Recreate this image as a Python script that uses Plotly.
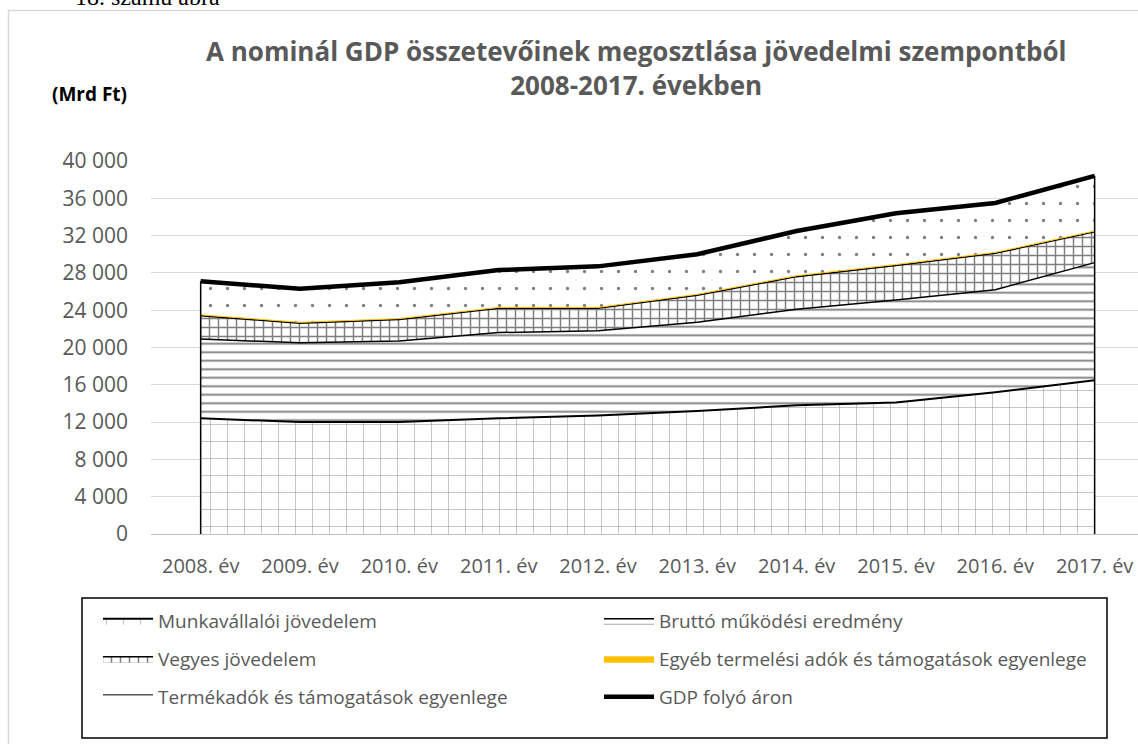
import plotly.graph_objects as go

years = ["2008. év", "2009. év", "2010. év", "2011. év", "2012. év",
         "2013. év", "2014. év", "2015. év", "2016. év", "2017. év"]
munkavallaloi = [12400, 12000, 12000, 12400, 12700, 13200, 13800, 14100, 15200, 16500]
brutto = [8500, 8500, 8700, 9200, 9100, 9500, 10300, 11000, 11000, 12600]
vegyes = [2500, 2100, 2300, 2600, 2400, 2900, 3500, 3700, 3900, 3300]
egyeb = [100, 100, 100, 100, 100, 100, 100, 100, 100, 100]
termekadok = [3600, 3600, 3900, 4000, 4400, 4300, 4800, 5500, 5300, 5900]
gdp = [27100, 26300, 27000, 28300, 28700, 30000, 32500, 34400, 35500, 38400]

FONT = "Open Sans"
GRAY = "#595959"

L, T, PW, PH = 151, 161, 987, 373


def px(x):
    return (x - L) / PW


def py(y):
    return (T + PH - y) / PH


fig = go.Figure()

fig.add_trace(go.Scatter(
    x=years, y=munkavallaloi, name="Munkavállalói jövedelem", stackgroup="s", legend="legend",
    mode="lines", line=dict(color="black", width=2), fillcolor="white",
    fillpattern=dict(shape="+", fgcolor="#222222", bgcolor="white", size=17, solidity=0.06)))
fig.add_trace(go.Scatter(
    x=years, y=brutto, name="Bruttó működési eredmény", stackgroup="s", legend="legend2",
    mode="lines", line=dict(color="black", width=1.5), fillcolor="white",
    fillpattern=dict(shape="-", fgcolor="black", bgcolor="white", size=8.5, solidity=0.22)))
fig.add_trace(go.Scatter(
    x=years, y=vegyes, name="Vegyes jövedelem", stackgroup="s", legend="legend3",
    mode="lines", line=dict(color="black", width=1.5), fillcolor="white",
    fillpattern=dict(shape="+", fgcolor="black", bgcolor="white", size=9, solidity=0.3)))
fig.add_trace(go.Scatter(
    x=years, y=egyeb, name="Egyéb termelési adók és támogatások egyenlege", stackgroup="s",
    legend="legend4", mode="lines", line=dict(color="#FFC000", width=1), fillcolor="#FFC000"))
fig.add_trace(go.Scatter(
    x=years, y=termekadok, name="Termékadók és támogatások egyenlege", stackgroup="s",
    legend="legend5", mode="lines", line=dict(color="black", width=1), fillcolor="white",
    fillpattern=dict(shape=".", fgcolor="black", bgcolor="white", size=17, solidity=0.03)))
fig.add_trace(go.Scatter(
    x=years, y=gdp, name="GDP folyó áron", mode="lines", legend="legend6",
    line=dict(color="black", width=4.5)))

# vertical edges of the area polygon at the first and last category
for i in (0, len(years) - 1):
    fig.add_trace(go.Scatter(x=[years[i], years[i]], y=[0, gdp[i]], mode="lines",
                             line=dict(color="black", width=1.5), showlegend=False,
                             hoverinfo="skip"))


def leg(x, y):
    return dict(x=px(x), y=py(y), xanchor="left", yanchor="middle", borderwidth=0,
                bgcolor="rgba(0,0,0,0)", itemwidth=50,
                font=dict(family=FONT, size=19, color=GRAY))


fig.update_layout(
    width=1138, height=744,
    margin=dict(l=L, r=0, t=T, b=744 - T - PH, pad=0),
    paper_bgcolor="white", plot_bgcolor="white",
    separators=", ",
    font=dict(family=FONT, color=GRAY),
    xaxis=dict(range=[-0.5, -0.5 + PW / 99.33], showgrid=False, showline=True,
               linecolor="#BFBFBF", linewidth=1, ticks="", tickfont=dict(size=20, color=GRAY),
               ticklabelstandoff=14),
    yaxis=dict(range=[0, 40000], tickvals=list(range(0, 40001, 4000)), tickformat=",d",
               showgrid=True, gridcolor="#D9D9D9", gridwidth=1, zeroline=False,
               showline=False, ticks="", tickfont=dict(size=21, color=GRAY),
               ticklabelstandoff=22),
    legend=leg(98, 621), legend2=leg(599, 621),
    legend3=leg(98, 659), legend4=leg(599, 659),
    legend5=leg(98, 697), legend6=leg(599, 697),
    showlegend=True,
)

# outer chart border
fig.add_shape(type="rect", xref="paper", yref="paper",
              x0=px(8.5), x1=1.05, y0=-0.6, y1=py(10.5),
              line=dict(color="#D9D9D9", width=1.5), fillcolor="rgba(0,0,0,0)", layer="below")
# legend border
fig.add_shape(type="rect", xref="paper", yref="paper",
              x0=px(82), x1=px(1107), y0=py(738), y1=py(598),
              line=dict(color="black", width=1.5), fillcolor="rgba(0,0,0,0)")

fig.add_annotation(text="<b>A nominál GDP összetevőinek megosztlása jövedelmi szempontból</b><br>"
                        "<b>2008-2017. években</b>",
                   xref="paper", yref="paper", x=px(636), y=py(68), xanchor="center",
                   yanchor="middle", showarrow=False,
                   font=dict(family=FONT, size=26, color=GRAY))
fig.add_annotation(text="<b>(Mrd Ft)</b>", xref="paper", yref="paper",
                   x=px(50), y=py(94), xanchor="left", yanchor="middle",
                   showarrow=False, font=dict(family=FONT, size=19, color="black"))
fig.add_annotation(text="18. számú ábra", xref="paper", yref="paper",
                   x=px(73), y=py(12), xanchor="left", yanchor="bottom",
                   showarrow=False, font=dict(family="Liberation Serif", size=24, color="black"))

fig.write_html("out.html", config={"displayModeBar": False},
               post_script="document.body.style.margin='0px';")
